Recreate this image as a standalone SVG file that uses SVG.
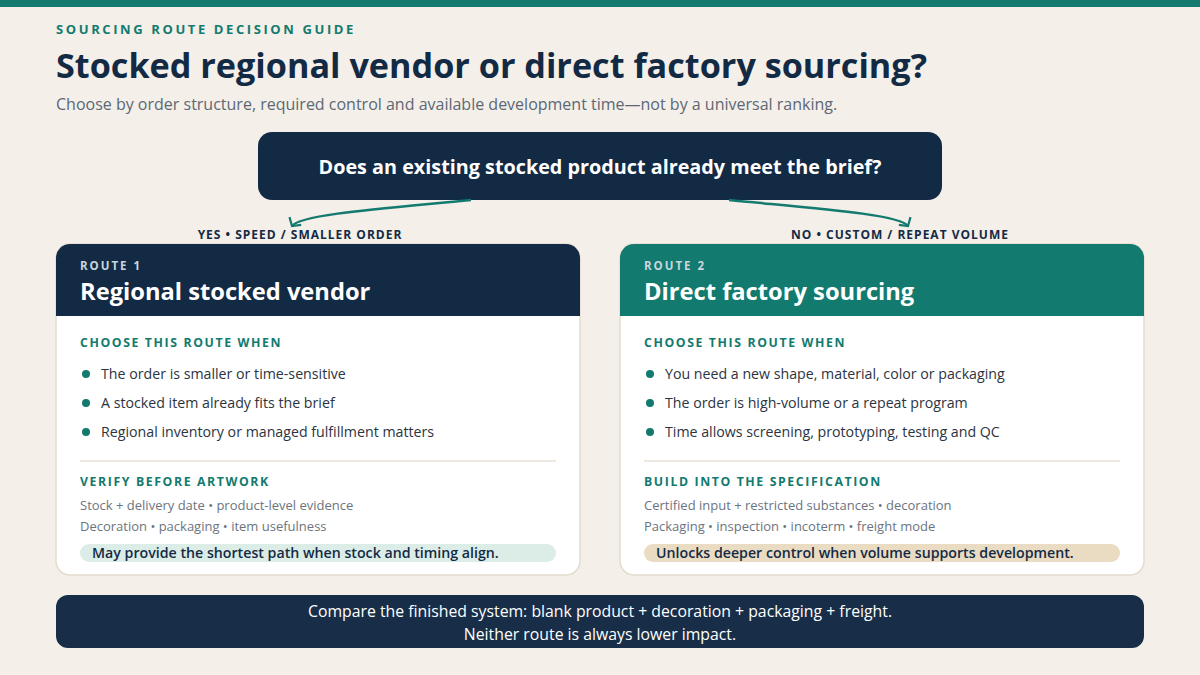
<svg xmlns="http://www.w3.org/2000/svg" width="1200" height="675" viewBox="0 0 1200 675">
<defs>
<style>
text{font-family:"Open Sans","Noto Sans","Liberation Sans",sans-serif}
.eyebrow{font-size:13px;font-weight:700;letter-spacing:2.6px;fill:#127a6e}
.title{font-size:34.2px;font-weight:700;fill:#132a45}
.sub{font-size:16px;fill:#5c6876}
.q{font-size:19.8px;font-weight:700;fill:#fff}
.lbl{font-size:12px;font-weight:700;letter-spacing:1px;fill:#132a45}
.rt{font-size:11.5px;font-weight:700;letter-spacing:2px;fill:#c9d6de}
.rh{font-size:23.7px;font-weight:700;fill:#fff}
.sec{font-size:12.3px;font-weight:700;letter-spacing:1.6px;fill:#127a6e}
.bul{font-size:14.2px;fill:#2b3441}
.sm{font-size:13px;fill:#6b7480}
.pill{font-size:14.2px;font-weight:600;fill:#132a45}
.foot{font-size:15.8px;font-weight:500;fill:#fff}
.card{fill:#fff;stroke:#e4dccf;stroke-width:1.5}
.conn{fill:none;stroke:#127a6e;stroke-width:2.5}
</style>
<marker id="chev" viewBox="0 0 14 16" refX="10" refY="8" markerWidth="14" markerHeight="16" markerUnits="userSpaceOnUse" orient="auto">
<path d="M4,1 L10,8 L4,15" fill="none" stroke="#127a6e" stroke-width="2.2"/>
</marker>
</defs>
<rect width="1200" height="675" fill="#f4efe8"/>
<rect width="1200" height="7" fill="#127a6e"/>

<g id="header">
<text class="eyebrow" x="56" y="34">SOURCING ROUTE DECISION GUIDE</text>
<text class="title" x="56" y="78">Stocked regional vendor or direct factory sourcing?</text>
<text class="sub" x="56" y="110">Choose by order structure, required control and available development time—not by a universal ranking.</text>
</g>

<g id="question">
<rect x="258" y="132" width="684" height="68" rx="14" fill="#132a45"/>
<text class="q" x="600" y="174" text-anchor="middle">Does an existing stocked product already meet the brief?</text>
</g>

<g id="connectors">
<path class="conn" d="M471,200 C390,208 300,214 292,226" marker-end="url(#chev)"/>
<path class="conn" d="M729,200 C810,208 900,214 908,226" marker-end="url(#chev)"/>
<text class="lbl" x="300" y="239" text-anchor="middle">YES • SPEED / SMALLER ORDER</text>
<text class="lbl" x="900" y="239" text-anchor="middle">NO • CUSTOM / REPEAT VOLUME</text>
</g>

<g id="route1">
<rect class="card" x="56" y="244" width="524" height="331" rx="14"/>
<path d="M56,316 V258 A14,14 0 0 1 70,244 H566 A14,14 0 0 1 580,258 V316 Z" fill="#132a45"/>
<text class="rt" x="80" y="270">ROUTE 1</text>
<text class="rh" x="80" y="300">Regional stocked vendor</text>
<text class="sec" x="80" y="347">CHOOSE THIS ROUTE WHEN</text>
<circle cx="86" cy="374" r="4" fill="#127a6e"/>
<text class="bul" x="101" y="379">The order is smaller or time-sensitive</text>
<circle cx="86" cy="403" r="4" fill="#127a6e"/>
<text class="bul" x="101" y="408">A stocked item already fits the brief</text>
<circle cx="86" cy="432" r="4" fill="#127a6e"/>
<text class="bul" x="101" y="437">Regional inventory or managed fulfillment matters</text>
<line x1="80" y1="461" x2="556" y2="461" stroke="#eee8e0" stroke-width="2"/>
<text class="sec" x="80" y="486">VERIFY BEFORE ARTWORK</text>
<text class="sm" x="80" y="510">Stock + delivery date • product-level evidence</text>
<text class="sm" x="80" y="531">Decoration • packaging • item usefulness</text>
<rect x="80" y="544" width="476" height="18" rx="9" fill="#dcede8"/>
<text class="pill" x="92" y="558">May provide the shortest path when stock and timing align.</text>
</g>

<g id="route2">
<rect class="card" x="620" y="244" width="524" height="331" rx="14"/>
<path d="M620,316 V258 A14,14 0 0 1 634,244 H1130 A14,14 0 0 1 1144,258 V316 Z" fill="#127a6e"/>
<text class="rt" x="644" y="270">ROUTE 2</text>
<text class="rh" x="644" y="300">Direct factory sourcing</text>
<text class="sec" x="644" y="347">CHOOSE THIS ROUTE WHEN</text>
<circle cx="650" cy="374" r="4" fill="#127a6e"/>
<text class="bul" x="665" y="379">You need a new shape, material, color or packaging</text>
<circle cx="650" cy="403" r="4" fill="#127a6e"/>
<text class="bul" x="665" y="408">The order is high-volume or a repeat program</text>
<circle cx="650" cy="432" r="4" fill="#127a6e"/>
<text class="bul" x="665" y="437">Time allows screening, prototyping, testing and QC</text>
<line x1="644" y1="461" x2="1120" y2="461" stroke="#eee8e0" stroke-width="2"/>
<text class="sec" x="644" y="486">BUILD INTO THE SPECIFICATION</text>
<text class="sm" x="644" y="510">Certified input + restricted substances • decoration</text>
<text class="sm" x="644" y="531">Packaging • inspection • incoterm • freight mode</text>
<rect x="644" y="544" width="476" height="18" rx="9" fill="#eadcc3"/>
<text class="pill" x="656" y="558">Unlocks deeper control when volume supports development.</text>
</g>

<g id="footer">
<rect x="56" y="595" width="1088" height="53" rx="12" fill="#182e48"/>
<text class="foot" x="600" y="617" text-anchor="middle">Compare the finished system: blank product + decoration + packaging + freight.</text>
<text class="foot" x="600" y="640" text-anchor="middle">Neither route is always lower impact.</text>
</g>
</svg>
